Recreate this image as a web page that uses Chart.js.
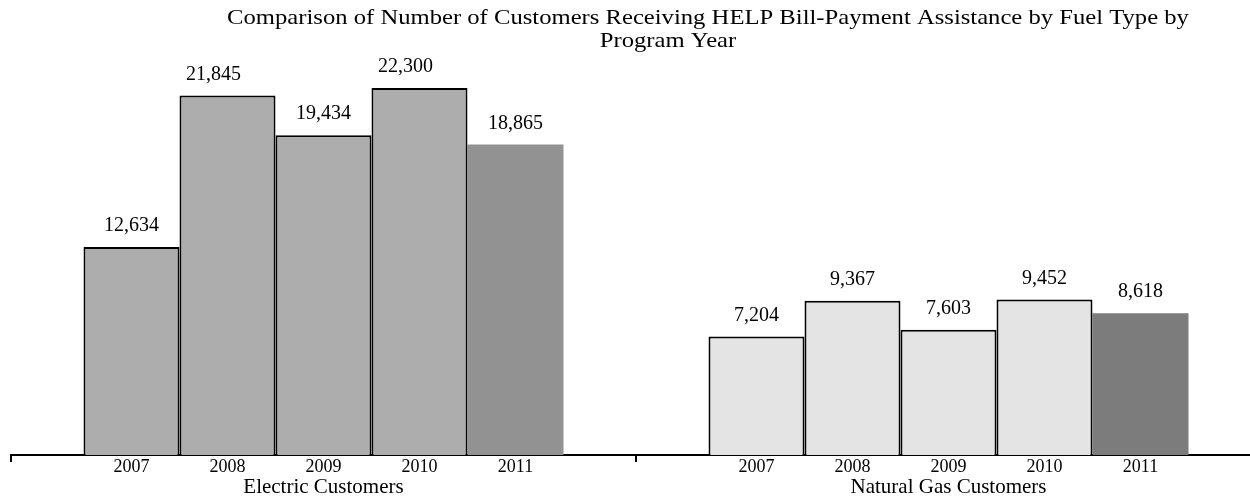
<!DOCTYPE html>
<html>
<head>
<meta charset="utf-8">
<script src="https://cdn.jsdelivr.net/npm/chart.js@4/dist/chart.umd.min.js"></script>
<style>
html,body{margin:0;padding:0;background:#fff;overflow:hidden;}
#wrap{position:relative;width:1261px;height:498px;}
</style>
</head>
<body>
<div id="wrap"><canvas id="c"></canvas></div>
<script>
const categories = ["Electric Customers", "Natural Gas Customers"];
const years = ["2007", "2008", "2009", "2010", "2011"];
const values2007 = [12634, 7204];
const values2008 = [21845, 9367];
const values2009 = [19434, 7603];
const values2010 = [22300, 9452];
const values2011 = [18865, 8618];
const titleLines = ["Comparison of Number of Customers Receiving HELP Bill-Payment Assistance by Fuel Type by", "Program Year"];

const seriesValues = [values2007, values2008, values2009, values2010, values2011];
const FONT = "'Liberation Serif', 'Times New Roman', serif";
const lightFill = ["#adadad", "#e4e4e4"];
const darkFill = ["#929292", "#7c7c7c"];

const datasets = years.map((y, i) => ({
  label: y,
  data: seriesValues[i],
  backgroundColor: i === 4 ? darkFill : lightFill,
  borderColor: i === 4 ? darkFill : "#000",
  borderWidth: i === 4 ? 0 : 2,
  borderSkipped: "bottom",
  categoryPercentage: 0.768,
  barPercentage: 1.0
}));

const labelPlugin = {
  id: "labelPlugin",
  afterDatasetsDraw(chart) {
    const ctx = chart.ctx;
    const area = chart.chartArea;
    ctx.save();
    ctx.fillStyle = "#000";
    ctx.textAlign = "center";
    chart.data.datasets.forEach((ds, di) => {
      const meta = chart.getDatasetMeta(di);
      meta.data.forEach((bar, i) => {
        const ly = bar.y - 21;
        const lx = ly < 82 ? bar.x - 14 : bar.x;
        ctx.font = "20px " + FONT;
        ctx.textBaseline = "middle";
        ctx.fillText(ds.data[i].toLocaleString("en-US"), lx, ly);
        ctx.font = "18px " + FONT;
        ctx.fillText(ds.label, bar.x, area.bottom + 12);
      });
    });
    ctx.restore();
  }
};

const titlePlugin = {
  id: "titlePlugin",
  afterDraw(chart) {
    const ctx = chart.ctx;
    const sx = 1.12;
    ctx.save();
    ctx.fillStyle = "#000";
    ctx.textAlign = "center";
    ctx.textBaseline = "middle";
    ctx.font = "22px " + FONT;
    ctx.scale(sx, 1);
    ctx.fillText(titleLines[0], 708 / sx, 18);
    ctx.fillText(titleLines[1], 668 / sx, 41);
    ctx.restore();
  }
};

new Chart(document.getElementById("c"), {
  type: "bar",
  data: { labels: categories, datasets: datasets },
  plugins: [labelPlugin, titlePlugin],
  options: {
    responsive: true,
    maintainAspectRatio: false,
    animation: false,
    layout: { padding: { top: 60, left: 11, right: 0, bottom: 0 } },
    plugins: { legend: { display: false }, tooltip: { enabled: false }, title: { display: false } },
    scales: {
      x: {
        grid: { drawOnChartArea: false, drawTicks: true, tickLength: 7, color: "#000", lineWidth: 2, offset: true },
        border: { display: true, color: "#000", width: 2 },
        ticks: { color: "#000", font: { family: FONT, size: 21 }, padding: 13, maxRotation: 0 },
        afterFit(scale) { scale.height = 43; }
      },
      y: {
        display: false,
        min: 0,
        max: 24000
      }
    }
  }
});
</script>
</body>
</html>
